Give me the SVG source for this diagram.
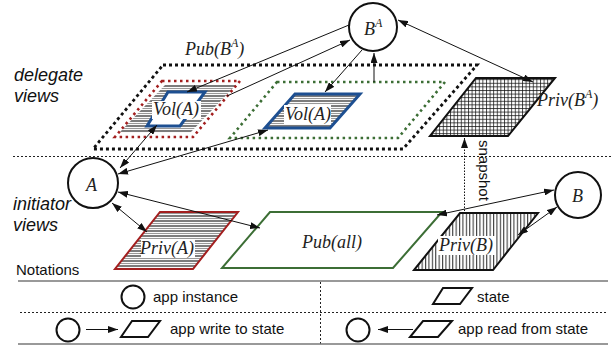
<svg xmlns="http://www.w3.org/2000/svg" width="615" height="349" viewBox="0 0 615 349">
<style>
.it{font-family:"Liberation Serif","Times New Roman",serif;font-style:italic;font-size:18px;fill:#222}
.sans{font-family:"Liberation Sans",Arial,sans-serif;fill:#111}
.view{font-size:18px;font-style:italic}
.note{font-size:15px}
.node{fill:#fff;stroke:#111;stroke-width:2}
.conn{stroke:#111;stroke-width:1;fill:none}
.sep{stroke:#222;stroke-width:1;stroke-dasharray:2 2;fill:none}
.rule{stroke:#777;stroke-width:1.5}
.bg{fill:#fff}
</style>
<defs>
<pattern id="hh" patternUnits="userSpaceOnUse" width="10" height="5">
<rect width="10" height="5" fill="#fff"/>
<line x1="0" y1="1" x2="10" y2="1" stroke="#111" stroke-width="1.1"/>
<line x1="0" y1="3.5" x2="10" y2="3.5" stroke="#999" stroke-width="1.1"/>
</pattern>
<pattern id="hv" patternUnits="userSpaceOnUse" width="3.4" height="10">
<rect width="3.4" height="10" fill="#fff"/>
<line x1="0.6" y1="0" x2="0.6" y2="10" stroke="#111" stroke-width="0.9"/>
</pattern>
<pattern id="grid" patternUnits="userSpaceOnUse" width="3.6" height="3.6">
<rect width="3.6" height="3.6" fill="#fff"/>
<line x1="0.5" y1="0" x2="0.5" y2="3.6" stroke="#111" stroke-width="0.75"/>
<line x1="0" y1="0.5" x2="3.6" y2="0.5" stroke="#111" stroke-width="0.75"/>
</pattern>
<marker id="ah" markerUnits="userSpaceOnUse" markerWidth="10" markerHeight="7" refX="10" refY="3.5" orient="auto-start-reverse">
<path d="M0,0 L10,3.5 L0,7 z" fill="#111"/>
</marker>
</defs>

<rect width="615" height="349" fill="#fff"/>

<g id="labels" class="sans">
<text class="view" x="14" y="81">delegate</text>
<text class="view" x="14" y="102">views</text>
<text class="view" x="13" y="210">initiator</text>
<text class="view" x="13" y="231">views</text>
</g>

<line class="sep" x1="13" y1="156.5" x2="613" y2="156.5"/>

<g id="pub-BA">
<polygon points="163,65 477,65 403,149 93,149" fill="none" stroke="#111" stroke-width="2.8" stroke-dasharray="3 3"/>
<text class="it" x="185" y="55">Pub(B<tspan font-size="12" dy="-8">A</tspan><tspan dy="8">)</tspan></text>
</g>

<g id="vol-red">
<polygon points="165,85 236,85 190,133 119,133" fill="url(#hh)"/>
<polygon points="162,81 240,81 193,137 115,137" fill="none" stroke="#a31f1f" stroke-width="2.6" stroke-dasharray="2.5 3.5"/>
<polygon points="168,92 205,92 180,126 147,126" fill="#fff" stroke="#1d4f91" stroke-width="3"/>
<rect class="bg" x="152" y="101" width="49" height="18"/>
<text class="it" x="153" y="115">Vol(A)</text>
</g>

<g id="vol-green">
<polygon points="277,82 445,82 398,138 230,138" fill="none" stroke="#3c6e35" stroke-width="2.6" stroke-dasharray="2.5 3.5"/>
<polygon points="295,94 360,94 330,128 265,128" fill="url(#hh)" stroke="#1d4f91" stroke-width="3"/>
<rect class="bg" x="284" y="105" width="47" height="19"/>
<text class="it" x="285" y="120">Vol(A)</text>
</g>

<g id="priv-BA">
<polygon points="476,78 555,78 508,136 430,136" fill="url(#grid)" stroke="#111" stroke-width="2"/>
<text class="it" x="537" y="106">Priv(B<tspan font-size="12" dy="-8">A</tspan><tspan dy="8">)</tspan></text>
</g>

<g id="node-BA">
<circle class="node" cx="373" cy="27" r="24"/>
<text class="it" x="364" y="35" font-size="19">B<tspan font-size="12" dy="-8">A</tspan></text>
</g>

<g id="node-A">
<circle class="node" cx="93" cy="183" r="25"/>
<text class="it" x="86" y="191" font-size="20">A</text>
</g>

<g id="node-B">
<circle class="node" cx="578" cy="195" r="23"/>
<text class="it" x="572" y="202" font-size="20">B</text>
</g>

<g id="priv-A">
<polygon points="160,212 238,212 193,269 115,269" fill="url(#hh)" stroke="#a31f1f" stroke-width="2"/>
<rect class="bg" x="141" y="239" width="54" height="19"/>
<text class="it" x="140" y="254">Priv(A)</text>
</g>

<g id="pub-all">
<polygon points="270,212 442,212 393,268 222,268" fill="#fff" stroke="#3c6e35" stroke-width="2"/>
<text class="it" x="302" y="248">Pub(all)</text>
</g>

<g id="priv-B">
<polygon points="460,213 538,213 493,270 414,270" fill="url(#hv)" stroke="#111" stroke-width="2"/>
<rect class="bg" x="438" y="236" width="58" height="19"/>
<text class="it" x="439" y="251">Priv(B)</text>
</g>

<g id="connectors">
<line class="conn" x1="120" y1="168" x2="157" y2="125" marker-start="url(#ah)" marker-end="url(#ah)"/>
<line class="conn" x1="118" y1="174" x2="268" y2="130" marker-start="url(#ah)" marker-end="url(#ah)"/>
<line class="conn" x1="118" y1="192" x2="260" y2="228" marker-start="url(#ah)" marker-end="url(#ah)"/>
<line class="conn" x1="112" y1="203" x2="147" y2="232" marker-start="url(#ah)" marker-end="url(#ah)"/>
<line class="conn" x1="349" y1="25" x2="187" y2="92" marker-end="url(#ah)"/>
<line class="conn" x1="227" y1="96" x2="350" y2="40" marker-end="url(#ah)"/>
<line class="conn" x1="362" y1="50" x2="325" y2="92" marker-end="url(#ah)"/>
<line class="conn" x1="374" y1="82" x2="374" y2="53" marker-end="url(#ah)"/>
<line class="conn" x1="398" y1="20" x2="533" y2="82" marker-start="url(#ah)" marker-end="url(#ah)"/>
<line class="conn" x1="437" y1="215" x2="554" y2="190" marker-start="url(#ah)" marker-end="url(#ah)"/>
<line class="conn" x1="518" y1="235" x2="557" y2="207" marker-start="url(#ah)" marker-end="url(#ah)"/>
<line class="conn" x1="464.5" y1="214" x2="464.5" y2="138" stroke-dasharray="1.5 1.5" marker-end="url(#ah)"/>
<text class="sans" font-size="15" transform="translate(479,140) rotate(90)">snapshot</text>
</g>

<g id="notations" class="sans">
<text class="note" x="16" y="275">Notations</text>
<line class="rule" x1="18" y1="281" x2="608" y2="281"/>
<line class="sep" x1="20" y1="312.5" x2="608" y2="312.5"/>
<line class="sep" x1="320.5" y1="282" x2="320.5" y2="344"/>
<line class="rule" x1="18" y1="344" x2="608" y2="344"/>
<g id="legend-instance">
<circle class="node" cx="133" cy="297" r="11.5"/>
<text class="note" x="153" y="302">app instance</text>
</g>
<g id="legend-state">
<polygon points="443,288 472,288 460,304 433,304" fill="#fff" stroke="#111" stroke-width="2"/>
<text class="note" x="477" y="302">state</text>
</g>
<g id="legend-write">
<circle class="node" cx="68" cy="330" r="11.5"/>
<line class="conn" x1="86" y1="329.5" x2="118" y2="329.5" marker-end="url(#ah)"/>
<polygon points="132,321 160,321 148,337 121,337" fill="#fff" stroke="#111" stroke-width="2"/>
<text class="note" x="170" y="334">app write to state</text>
</g>
<g id="legend-read">
<circle class="node" cx="358" cy="330" r="11.5"/>
<line class="conn" x1="413" y1="329.5" x2="378" y2="329.5" marker-end="url(#ah)"/>
<polygon points="423,321 452,321 438,337 410,337" fill="#fff" stroke="#111" stroke-width="2"/>
<text class="note" x="458" y="334">app read from state</text>
</g>
</g>
</svg>
